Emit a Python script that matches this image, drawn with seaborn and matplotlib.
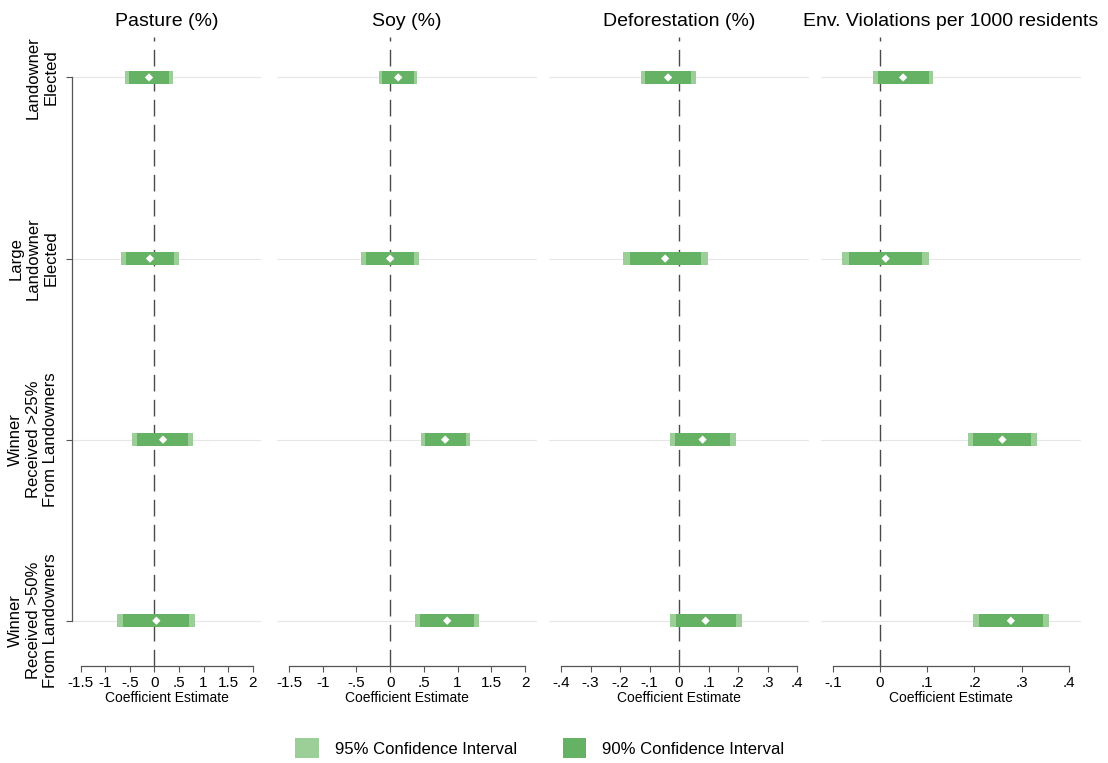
import pandas as pd
import matplotlib
matplotlib.use("Agg")
import matplotlib.pyplot as plt
from matplotlib.patches import Patch
import seaborn as sns

# rows (top to bottom)
categories = [
    "Landowner\nElected",
    "Large\nLandowner\nElected",
    "Winner\nReceived >25%\nFrom Landowners",
    "Winner\nReceived >50%\nFrom Landowners",
]
outcomes = ["Pasture (%)", "Soy (%)", "Deforestation (%)", "Env. Violations per 1000 residents"]

# point estimates and confidence intervals per outcome
pasture_coef = [-0.11, -0.09, 0.175, 0.04]
pasture_ci95 = [(-0.60, 0.385), (-0.68, 0.50), (-0.45, 0.786), (-0.755, 0.833)]
pasture_ci90 = [(-0.517, 0.303), (-0.585, 0.405), (-0.35, 0.69), (-0.633, 0.705)]

soy_coef = [0.12, 0.0, 0.816, 0.846]
soy_ci95 = [(-0.16, 0.396), (-0.43, 0.425), (0.455, 1.18), (0.37, 1.316)]
soy_ci90 = [(-0.12, 0.36), (-0.36, 0.356), (0.52, 1.12), (0.445, 1.24)]

defor_coef = [-0.037, -0.047, 0.080, 0.090]
defor_ci95 = [(-0.129, 0.057), (-0.19, 0.097), (-0.032, 0.192), (-0.032, 0.213)]
defor_ci90 = [(-0.114, 0.042), (-0.166, 0.074), (-0.014, 0.174), (-0.011, 0.193)]

env_coef = [0.049, 0.012, 0.259, 0.277]
env_ci95 = [(-0.014, 0.113), (-0.081, 0.104), (0.1855, 0.332), (0.197, 0.357)]
env_ci90 = [(-0.004, 0.104), (-0.066, 0.0895), (0.197, 0.319), (0.21, 0.344)]

# x ticks per panel
pasture_ticks = [-1.5, -1, -0.5, 0, 0.5, 1, 1.5, 2]
soy_ticks = [-1.5, -1, -0.5, 0, 0.5, 1, 1.5, 2]
defor_ticks = [-0.4, -0.3, -0.2, -0.1, 0, 0.1, 0.2, 0.3, 0.4]
env_ticks = [-0.1, 0, 0.1, 0.2, 0.3, 0.4]

LIGHT = "#9bcf97"
DARK = "#65b265"
SPINE = "#555555"


def stata_label(v):
    s = f"{v:g}"
    return s.replace("0.", ".")


def build_frame(coef, ci95, ci90):
    return pd.DataFrame({
        "row": range(1, len(coef) + 1),
        "coef": coef,
        "lo95": [c[0] for c in ci95],
        "hi95": [c[1] for c in ci95],
        "lo90": [c[0] for c in ci90],
        "hi90": [c[1] for c in ci90],
    })


sns.set_style("white")
plt.rcParams["font.family"] = ["Liberation Sans", "DejaVu Sans"]
plt.rcParams["lines.scale_dashes"] = False
plt.rcParams["text.color"] = "black"
plt.rcParams["axes.labelcolor"] = "black"

panels = [
    (build_frame(pasture_coef, pasture_ci95, pasture_ci90), pasture_ticks),
    (build_frame(soy_coef, soy_ci95, soy_ci90), soy_ticks),
    (build_frame(defor_coef, defor_ci95, defor_ci90), defor_ticks),
    (build_frame(env_coef, env_ci95, env_ci90), env_ticks),
]

W, H = 1108, 763
fig = plt.figure(figsize=(W / 100, H / 100), dpi=100)
x_px = [(72.1, 261.3), (277.2, 536.8), (549.2, 808.8), (820.9, 1080.8)]
top_px, bot_px = 36.7, 666.0

for i, ((df, ticks), title, (x0, x1)) in enumerate(zip(panels, outcomes, x_px)):
    ax = fig.add_axes([x0 / W, 1 - bot_px / H, (x1 - x0) / W, (bot_px - top_px) / H])
    for r in df["row"]:
        ax.axhline(r, color="#e6e6e6", lw=0.8, zorder=0)
    ax.axvline(0, color="#4a4a4a", lw=1.0, dashes=(12, 6), zorder=1)
    ax.barh(df["row"], df["hi95"] - df["lo95"], left=df["lo95"], height=0.07,
            color=LIGHT, linewidth=0, zorder=2)
    ax.barh(df["row"], df["hi90"] - df["lo90"], left=df["lo90"], height=0.07,
            color=DARK, linewidth=0, zorder=3)
    sns.scatterplot(data=df, x="coef", y="row", marker="D", s=18, color="white",
                    edgecolor="none", ax=ax, zorder=4)

    span = ticks[-1] - ticks[0]
    ax.set_xlim(ticks[0] - 0.05 * span, ticks[-1] + 0.05 * span)
    ax.set_ylim(4.25, 0.775)
    ax.set_xticks(ticks)
    ax.set_xticklabels([stata_label(t) for t in ticks], fontsize=11)
    ax.set_xlabel("Coefficient Estimate", fontsize=10, labelpad=1)
    ax.set_title(title, fontsize=14, pad=8, color="black")
    ax.tick_params(axis="x", direction="out", length=4, width=0.8, color=SPINE, pad=3,
                   bottom=True, labelcolor="black")

    for s in ["top", "right"]:
        ax.spines[s].set_visible(False)
    ax.spines["bottom"].set_bounds(ticks[0], ticks[-1])
    ax.spines["bottom"].set_color(SPINE)
    ax.spines["bottom"].set_linewidth(0.9)

    if i == 0:
        ax.spines["left"].set_bounds(1, 4)
        ax.spines["left"].set_color(SPINE)
        ax.spines["left"].set_linewidth(0.9)
        ax.set_yticks([1, 2, 3, 4])
        ax.set_yticklabels(categories, fontsize=12, rotation=90, va="center",
                           ha="right", multialignment="center")
        ax.tick_params(axis="y", direction="out", length=4, width=0.8, color=SPINE,
                       pad=6, left=True, labelcolor="black")
    else:
        ax.spines["left"].set_visible(False)
        ax.set_yticks([])
    ax.set_ylabel("")

handles = [Patch(facecolor=LIGHT, edgecolor="none", label="95% Confidence Interval"),
           Patch(facecolor=DARK, edgecolor="none", label="90% Confidence Interval")]
fig.legend(handles=handles, loc="center", bbox_to_anchor=(540 / W, 1 - 748 / H),
           ncol=2, frameon=False, fontsize=12, handlelength=1.4, handleheight=1.4,
           handletextpad=1.0, columnspacing=2.7)

fig.savefig("out.png", dpi=100)
